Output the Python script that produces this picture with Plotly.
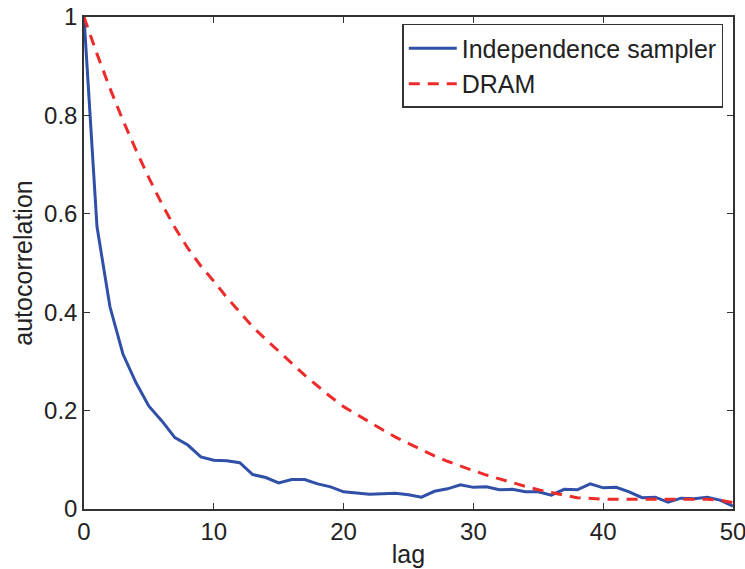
import plotly.graph_objects as go

lags = list(range(0, 51))

indep_sampler = [1.000, 0.574, 0.411, 0.315, 0.257, 0.209, 0.179, 0.145, 0.130, 0.106,
                 0.099, 0.098, 0.094, 0.070, 0.064, 0.053, 0.060, 0.060, 0.051, 0.045,
                 0.035, 0.033, 0.030, 0.031, 0.032, 0.029, 0.024, 0.036, 0.041, 0.049,
                 0.044, 0.045, 0.039, 0.040, 0.035, 0.035, 0.028, 0.040, 0.039, 0.051,
                 0.043, 0.044, 0.035, 0.023, 0.024, 0.014, 0.022, 0.021, 0.024, 0.018,
                 0.006]

dram = [1.000, 0.925, 0.855, 0.790, 0.730, 0.673, 0.620, 0.572, 0.530, 0.494,
        0.463, 0.430, 0.400, 0.370, 0.345, 0.320, 0.295, 0.272, 0.250, 0.228,
        0.208, 0.192, 0.176, 0.161, 0.146, 0.133, 0.120, 0.108, 0.097, 0.087,
        0.078, 0.069, 0.061, 0.053, 0.046, 0.039, 0.033, 0.028, 0.023, 0.021,
        0.020, 0.020, 0.020, 0.020, 0.020, 0.020, 0.020, 0.021, 0.020, 0.018,
        0.013]

x_ticks = [0, 10, 20, 30, 40, 50]
y_ticks = [0, 0.2, 0.4, 0.6, 0.8, 1]
y_tick_labels = ["0", "0.2", "0.4", "0.6", "0.8", "1"]

fig = go.Figure()
fig.add_trace(go.Scatter(x=lags, y=indep_sampler, mode="lines",
                         name="Independence sampler",
                         line=dict(color="#3050A8", width=3)))
fig.add_trace(go.Scatter(x=lags, y=dram, mode="lines", name="DRAM",
                         line=dict(color="#EE2B2B", width=3, dash="11px,8px")))

font_family = "Liberation Sans, Arial, sans-serif"
text_color = "#222222"
axis_common = dict(showline=True, linecolor="#333333", linewidth=1.5, mirror="ticks",
                   ticks="inside", ticklen=6, tickcolor="#333333", showgrid=False,
                   zeroline=False, automargin=False, ticklabeloverflow="allow",
                   tickfont=dict(size=24, color=text_color, family=font_family))

fig.update_xaxes(range=[0, 50], tickvals=x_ticks,
                 title=dict(text="lag", font=dict(size=25, color=text_color, family=font_family),
                            standoff=2),
                 **axis_common)
fig.update_yaxes(range=[0, 1], tickvals=y_ticks, ticktext=y_tick_labels,
                 title=dict(text="autocorrelation",
                            font=dict(size=25, color=text_color, family=font_family),
                            standoff=4),
                 **axis_common)

fig.update_layout(
    width=745, height=569,
    margin=dict(l=84, r=12, t=17, b=60),
    paper_bgcolor="white", plot_bgcolor="white",
    font=dict(family=font_family, size=24, color=text_color),
    legend=dict(x=0.985, y=0.986, xanchor="right", yanchor="top",
                bgcolor="white", bordercolor="#333333", borderwidth=1.5,
                font=dict(size=25, color=text_color, family=font_family),
                tracegroupgap=0, itemwidth=48),
    showlegend=True,
)

fig.write_html("out.html",
               config={"displayModeBar": False},
               post_script="document.body.style.margin='0';document.body.style.overflow='hidden';")
